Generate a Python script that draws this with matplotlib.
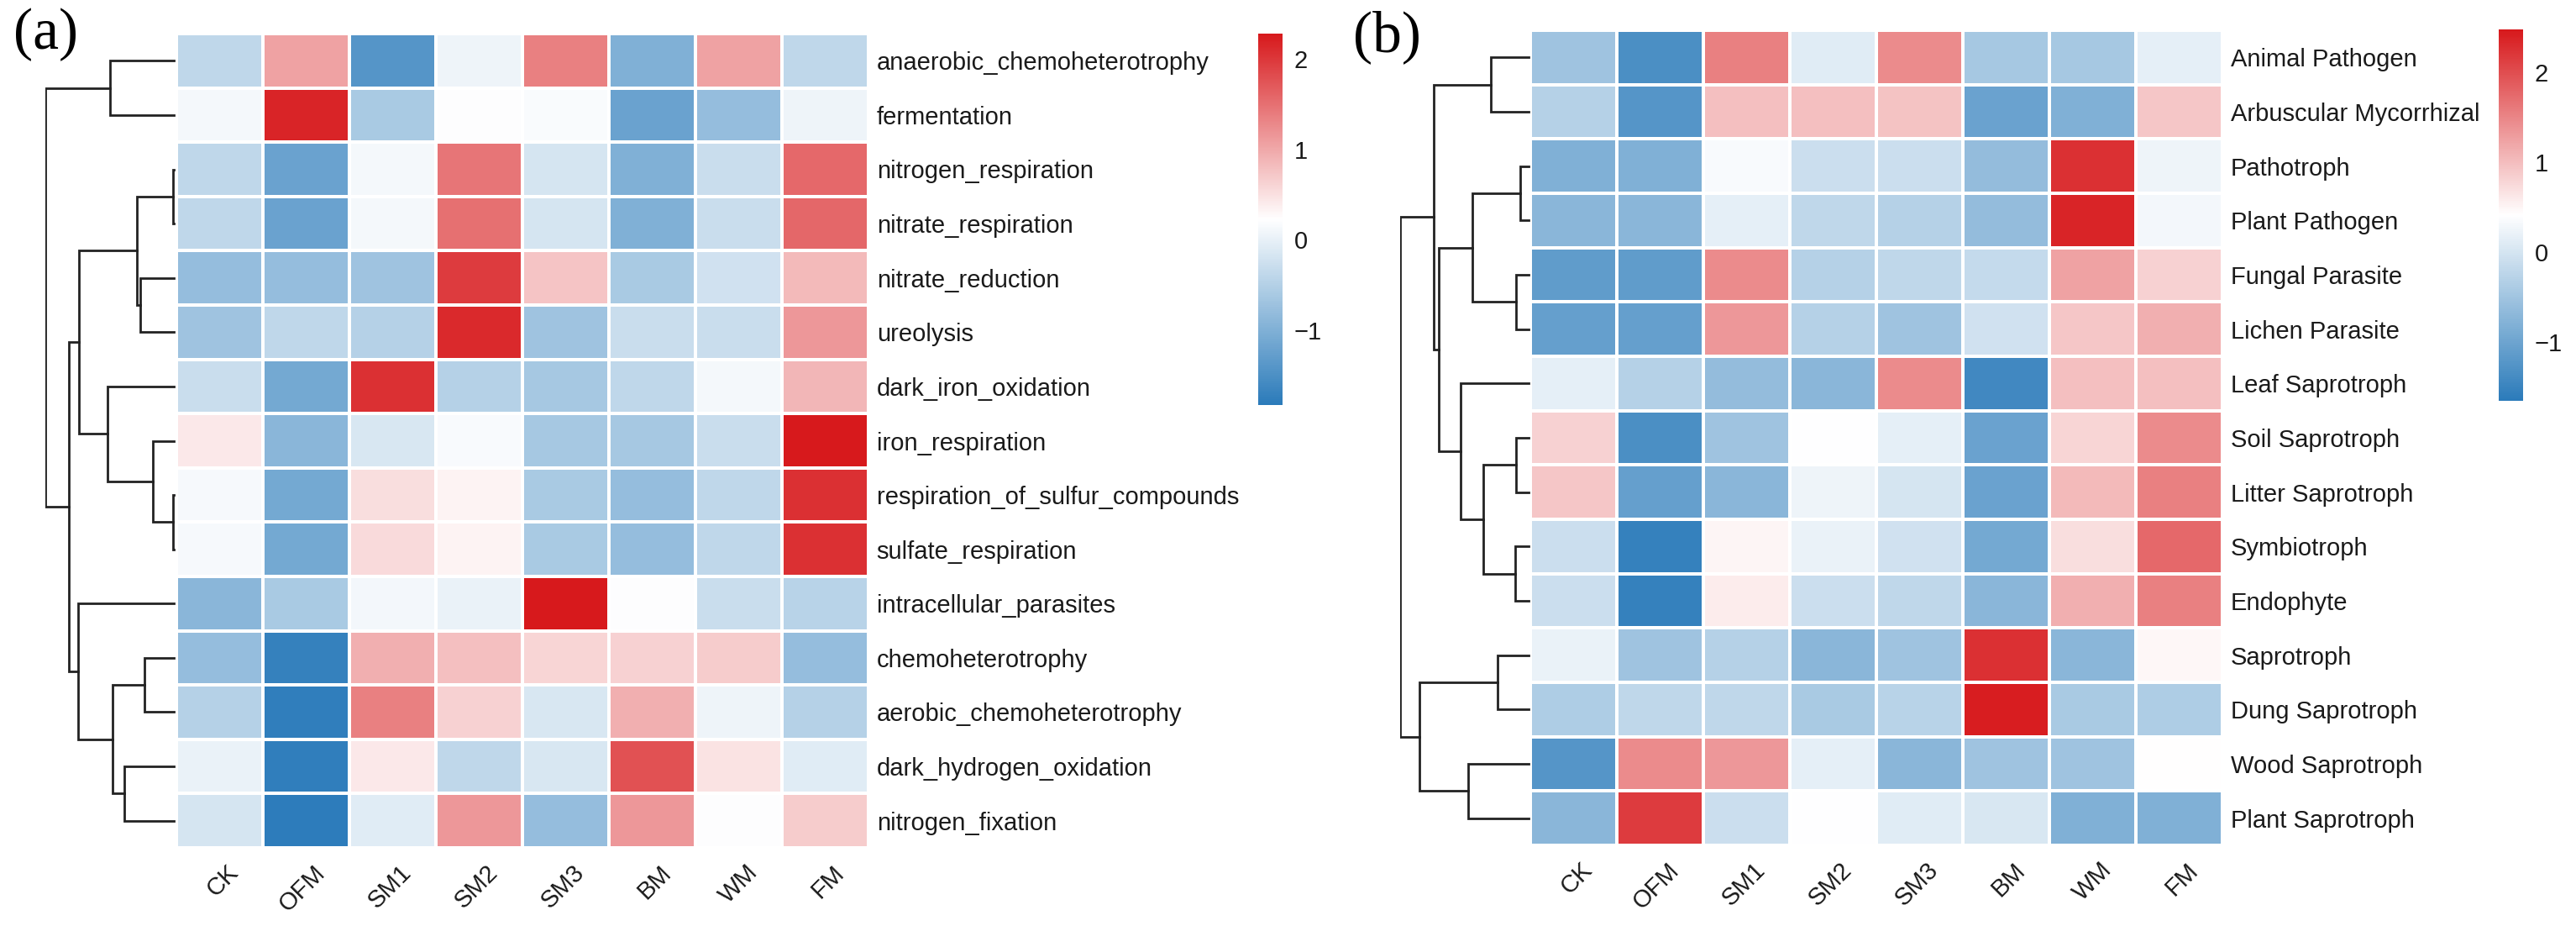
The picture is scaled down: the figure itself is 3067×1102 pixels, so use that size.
import numpy as np
import matplotlib
matplotlib.use("Agg")
import matplotlib.pyplot as plt
from matplotlib.colors import LinearSegmentedColormap, Normalize
from matplotlib.cm import ScalarMappable
import matplotlib.transforms as mtransforms

plt.rcParams['font.family'] = ['Liberation Sans', 'DejaVu Sans']

## data
samples = ["CK", "OFM", "SM1", "SM2", "SM3", "BM", "WM", "FM"]

rows_a = ["anaerobic_chemoheterotrophy", "fermentation", "nitrogen_respiration",
          "nitrate_respiration", "nitrate_reduction", "ureolysis", "dark_iron_oxidation",
          "iron_respiration", "respiration_of_sulfur_compounds", "sulfate_respiration",
          "intracellular_parasites", "chemoheterotrophy", "aerobic_chemoheterotrophy",
          "dark_hydrogen_oxidation", "nitrogen_fixation"]

vals_a = [
    [-0.39, 1.05, -1.42, 0.06, 1.36, -1.01, 1.05, -0.39],
    [0.12, 2.18, -0.60, 0.20, 0.17, -1.21, -0.80, 0.06],
    [-0.39, -1.21, 0.12, 1.46, -0.19, -1.01, -0.29, 1.56],
    [-0.39, -1.21, 0.12, 1.50, -0.19, -1.00, -0.29, 1.58],
    [-0.80, -0.80, -0.70, 1.97, 0.74, -0.60, -0.23, 0.84],
    [-0.70, -0.39, -0.49, 2.12, -0.70, -0.29, -0.29, 1.15],
    [-0.29, -1.11, 2.07, -0.49, -0.64, -0.39, 0.12, 0.88],
    [0.43, -0.90, -0.15, 0.16, -0.64, -0.64, -0.29, 2.28],
    [0.14, -1.11, 0.53, 0.33, -0.60, -0.80, -0.39, 2.07],
    [0.14, -1.11, 0.55, 0.33, -0.60, -0.80, -0.39, 2.06],
    [-0.90, -0.60, 0.10, 0.02, 2.28, 0.20, -0.29, -0.45],
    [-0.80, -1.73, 0.94, 0.80, 0.60, 0.64, 0.68, -0.80],
    [-0.49, -1.77, 1.36, 0.64, -0.15, 0.94, 0.06, -0.49],
    [0.02, -1.77, 0.43, -0.39, -0.15, 1.77, 0.47, -0.08],
    [-0.19, -1.80, -0.08, 1.15, -0.80, 1.15, 0.20, 0.68],
]

rows_b = ["Animal Pathogen", "Arbuscular Mycorrhizal", "Pathotroph", "Plant Pathogen",
          "Fungal Parasite", "Lichen Parasite", "Leaf Saprotroph", "Soil Saprotroph",
          "Litter Saprotroph", "Symbiotroph", "Endophyte", "Saprotroph",
          "Dung Saprotroph", "Wood Saprotroph", "Plant Saprotroph"]

vals_b = [
    [-0.51, -1.34, 1.55, 0.11, 1.45, -0.45, -0.45, 0.17],
    [-0.31, -1.24, 0.99, 0.99, 0.95, -1.03, -0.82, 0.93],
    [-0.82, -0.82, 0.35, -0.10, -0.10, -0.62, 2.27, 0.25],
    [-0.72, -0.72, 0.17, -0.20, -0.31, -0.62, 2.38, 0.29],
    [-1.13, -1.13, 1.45, -0.31, -0.20, -0.16, 1.24, 0.83],
    [-1.07, -1.07, 1.34, -0.31, -0.51, -0.04, 0.93, 1.14],
    [0.17, -0.31, -0.62, -0.72, 1.45, -1.44, 0.99, 0.99],
    [0.83, -1.34, -0.51, 0.40, 0.17, -1.03, 0.79, 1.45],
    [0.93, -1.07, -0.72, 0.25, 0.00, -1.03, 1.03, 1.55],
    [-0.10, -1.55, 0.50, 0.21, -0.04, -0.93, 0.72, 1.76],
    [-0.10, -1.55, 0.58, -0.10, -0.20, -0.72, 1.14, 1.55],
    [0.21, -0.51, -0.31, -0.72, -0.51, 2.27, -0.72, 0.48],
    [-0.37, -0.20, -0.20, -0.41, -0.27, 2.44, -0.41, -0.37],
    [-1.24, 1.45, 1.34, 0.17, -0.72, -0.51, -0.51, 0.42],
    [-0.72, 2.17, -0.10, 0.40, 0.11, 0.04, -0.82, -0.82],
]

# row clustering: (left, right, height); ids >= 15 are earlier merges
link_a = [(2, 3, 1), (8, 9, 1), (4, 5, 40), (15, 17, 44), (7, 16, 25),
          (11, 12, 35), (13, 14, 59), (20, 21, 73), (0, 1, 76), (6, 19, 79),
          (18, 24, 113), (10, 22, 114.5), (25, 26, 125), (23, 27, 153)]
link_b = [(2, 3, 10), (4, 5, 15), (7, 8, 15), (9, 10, 16), (0, 1, 45),
          (15, 16, 67), (17, 18, 54), (6, 21, 81), (20, 22, 107), (19, 23, 113),
          (11, 12, 37), (13, 14, 72), (25, 26, 130), (24, 27, 153)]

range_a = (-1.83, 2.28)
range_b = (-1.65, 2.48)

cmap = LinearSegmentedColormap.from_list("bwr_ph", ["#2B7BBA", "#FFFFFF", "#D7191C"])

W, H = 3067, 1102
fig = plt.figure(figsize=(W / 100, H / 100), dpi=100)


def px_axes(x0, y0, x1, y1):
    return fig.add_axes([x0 / W, 1 - y1 / H, (x1 - x0) / W, (y1 - y0) / H])


def draw_dendro(ax, links, n, hmax, hmin):
    pos = {i: (i + 0.5, 0.0) for i in range(n)}
    for k, (a, b, h) in enumerate(links):
        ya, ha = pos[a]
        yb, hb = pos[b]
        ax.plot([ha, h, h, hb], [ya, ya, yb, yb], color="#222222", lw=2.0,
                solid_joinstyle="miter")
        pos[n + k] = ((ya + yb) / 2, h)
    ax.set_xlim(hmax, hmin)
    ax.set_ylim(n, 0)
    ax.axis("off")


def panel(tag, tagxy, dend_box, heat_box, cbar_box, rows, vals, links, vrange):
    data = np.array(vals)
    n = len(rows)
    norm = Normalize(vmin=vrange[0], vmax=vrange[1])

    # dendrogram
    axd = px_axes(*dend_box)
    draw_dendro(axd, links, n, 153, -(dend_box[2] - dend_box[0] - 153))

    # heatmap
    ax = px_axes(*heat_box)
    ax.pcolormesh(np.arange(len(samples) + 1), np.arange(n + 1), data, cmap=cmap,
                  norm=norm, edgecolors="white", linewidth=1.6)
    ax.set_xlim(0, len(samples))
    ax.set_ylim(n, 0)
    for s in ax.spines.values():
        s.set_visible(False)
    ax.yaxis.tick_right()
    ax.set_yticks(np.arange(n) + 0.5, rows)
    ax.tick_params(axis="y", length=0, pad=7, labelsize=21, labelcolor="#1a1a1a")
    ax.set_xticks(np.arange(len(samples)) + 0.5, samples)
    ax.tick_params(axis="x", length=0, pad=11, labelsize=21, labelcolor="#1a1a1a")
    off = mtransforms.ScaledTranslation(8 / 100, 0, fig.dpi_scale_trans)
    for lab in ax.get_xticklabels():
        lab.set_rotation(45)
        lab.set_ha("right")
        lab.set_va("top")
        lab.set_rotation_mode("anchor")
        lab.set_transform(lab.get_transform() + off)

    # colour key
    cax = px_axes(*cbar_box)
    cb = fig.colorbar(ScalarMappable(norm=norm, cmap=cmap), cax=cax, ticks=[-1, 0, 1, 2])
    cb.outline.set_visible(False)
    cax.tick_params(length=0, pad=10, labelsize=21, labelcolor="#1a1a1a")

    fig.text(tagxy[0] / W, 1 - tagxy[1] / H, tag, family="Liberation Serif",
             fontsize=50, ha="left", va="top")


panel("(a)", (16, 10), (54, 40, 210, 1009), (210, 40, 1034, 1009),
      (1498, 40, 1527, 482), rows_a, vals_a, link_a, range_a)
panel("(b)", (1611, 12), (1667, 36, 1822, 1006), (1822, 36, 2646, 1006),
      (2975, 35, 3004, 477), rows_b, vals_b, link_b, range_b)

fig.savefig("out.png", dpi=100, facecolor="white")
